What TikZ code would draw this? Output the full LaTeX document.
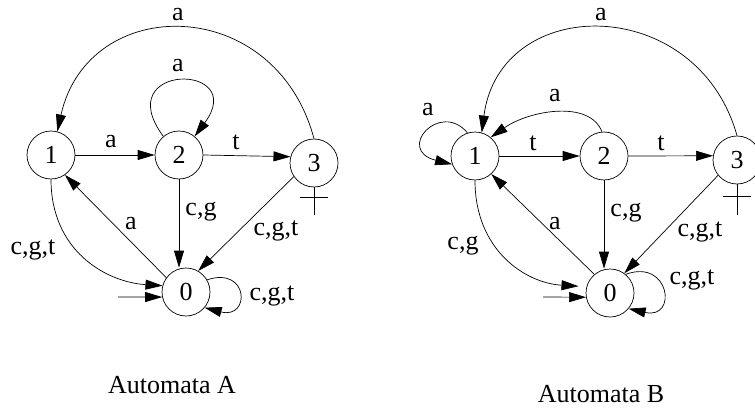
\documentclass[tikz,border=0pt]{standalone}
\usepackage{fontspec}
\setmainfont{Liberation Serif}
\usetikzlibrary{arrows.meta}

\begin{document}
\begin{tikzpicture}[x=1pt,y=-1pt,
  every node/.style={font=\fontsize{26}{30}\selectfont, inner sep=0pt},
  state/.style={draw, circle, minimum size=48pt, line width=0.7pt},
  edge/.style={line width=0.7pt, -{Triangle[length=17pt,width=10pt]}},
  cross/.style={line width=0.7pt}]
\useasboundingbox (0,0) rectangle (755,412);

\node[state] (A1) at (51,155) {1};
\node[state] (A2) at (179,155) {2};
\node[state] (A3) at (314,163) {3};
\node[state] (A0) at (186,292) {0};
\coordinate (A0in) at (118,297);

\draw[edge] (A1.east) -- (A2.west);
\draw[edge] (A2.east) -- (A3.165);
\draw[edge] (A2.130) .. controls +(-55,-74) and +(55,-74) .. (A2.50);
\draw[edge] (A3.north) .. controls (275,-7) and (88,-7) .. (A1.75);
\draw[edge] (A1.south) .. controls (51,250) and (105,282) .. (A0.165);
\draw[edge] (A0.144) -- (A1.-55);
\draw[edge] (A2.south) -- (A2.south |- A0.north);
\draw[edge] (A3.214) -- (A0.60);
\draw[edge] (A0.30) .. controls +(42,-14) and +(46,12) .. (A0.-40);
\draw[edge] (A0in) -- (A0.192);
\draw[cross] (A3.south) -- ++(0,28) (A3.south) ++(-14,10) -- ++(28,0);

\node (lA31) at (178,15) {a};
\node (lA22) at (178,66) {a};
\node (lA12) at (111,142) {a};
\node (lA23) at (236,142) {t};
\node (lA20) at (201,212) {c,g};
\node (lA01) at (131,224) {a};
\node (lA10) at (33,250) {c,g,t};
\node (lA30) at (276,231) {c,g,t};
\node (lA00) at (272,296) {c,g,t};
\node (capA) at (172,385) {Automata A};

\node[state] (B1) at (475,156) {1};
\node[state] (B2) at (604,156) {2};
\node[state] (B3) at (737,160) {3};
\node[state] (B0) at (610,293) {0};
\coordinate (B0in) at (543,297);

\draw[edge] (B1.108) .. controls (440,100) and (395,150) .. (B1.200);
\draw[edge] (B1.east) -- (B2.west);
\draw[edge] (B2.east) -- (B3.170);
\draw[edge] (B2.95) .. controls (590,100) and (530,110) .. (B1.50);
\draw[edge] (B3.north) .. controls (697,-7) and (500,-7) .. (B1.74);
\draw[edge] (B0.130) -- (B1.-48);
\draw[edge] (B2.south) -- (B2.south |- B0.north);
\draw[edge] (B3.219) -- (B0.54);
\draw[edge, shorten >=8pt] (B1.south) .. controls (475,250) and (525,283) .. (B0.165);
\draw[edge] (B0.50) .. controls (670,258) and (678,320) .. (B0.-40);
\draw[edge] (B0in) -- (B0.190);
\draw[cross] (B3.south) -- ++(0,31) (B3.south) ++(-14,12) -- ++(28,0);

\node (lB11) at (428,110) {a};
\node (lB31) at (601,15) {a};
\node (lB21) at (555,96) {a};
\node (lB12) at (533,143) {t};
\node (lB23) at (661,143) {t};
\node (lB20) at (626,213) {c,g};
\node (lB01) at (555,224) {a};
\node (lB10) at (463,246) {c,g};
\node (lB30) at (700,232) {c,g,t};
\node (lB00) at (692,280) {c,g,t};
\node (capB) at (601,394) {Automata B};
\end{tikzpicture}
\end{document}
